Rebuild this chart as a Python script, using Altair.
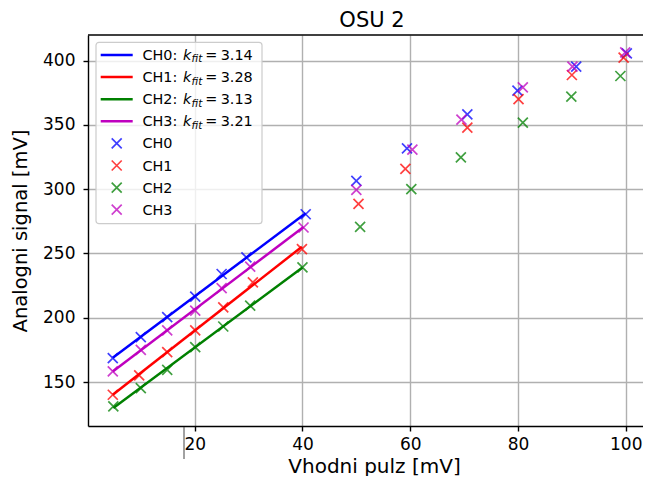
import altair as alt
import pandas as pd

channels = ["CH0", "CH1", "CH2", "CH3"]
colors = ["#0000ff", "#ff0000", "#008000", "#bf00bf"]
k_fit = ["3.14", "3.28", "3.13", "3.21"]

ch0_x = [4.8, 10.0, 14.9, 20.1, 25.0, 29.6, 40.6, 50.0, 59.4, 70.6, 79.9, 90.8, 100.2]
ch0_y = [168.6, 184.9, 200.4, 216.4, 234.0, 246.9, 280.5, 306.5, 331.8, 358.2, 376.6, 395.3, 405.6]
ch1_x = [4.8, 9.7, 14.9, 20.1, 25.3, 30.8, 39.9, 50.4, 59.1, 70.6, 80.1, 90.0, 99.6]
ch1_y = [140.1, 155.2, 173.2, 190.1, 208.1, 227.5, 253.4, 288.6, 315.8, 347.9, 370.1, 388.8, 402.3]
ch2_x = [4.9, 10.0, 14.9, 20.1, 25.3, 30.3, 40.0, 50.7, 60.2, 69.4, 80.9, 89.9, 99.0]
ch2_y = [131.1, 145.3, 159.5, 177.1, 193.2, 209.5, 239.2, 270.7, 300.0, 324.8, 351.8, 372.0, 388.0]
ch3_x = [4.8, 10.0, 14.9, 20.1, 25.0, 30.3, 40.2, 50.0, 60.4, 69.5, 80.9, 90.1, 99.9]
ch3_y = [158.3, 175.0, 190.1, 205.6, 223.1, 239.7, 270.2, 299.5, 330.8, 354.1, 379.2, 395.3, 406.4]
n_fit = 7  # first seven points of each channel are used for the linear fit

x_ticks = [20, 40, 60, 80, 100]
y_ticks = [150, 200, 250, 300, 350, 400]

rows = []
for ch, xs, ys in zip(channels, [ch0_x, ch1_x, ch2_x, ch3_x], [ch0_y, ch1_y, ch2_y, ch3_y]):
    for i, (xv, yv) in enumerate(zip(xs, ys)):
        rows.append({"ch": ch, "x": xv, "y": yv, "fit": i < n_fit})
df = pd.DataFrame(rows)
one = pd.DataFrame({"z": [0]})

FONT = "DejaVu Sans"
W, H = 555, 391
XPATH = "M-1,-1L1,1M-1,1L1,-1"

xenc = alt.X(
    "x:Q",
    scale=alt.Scale(domain=[0.2, 103.2], nice=False, zero=False),
    axis=alt.Axis(values=x_ticks, title="Vhodni pulz [mV]", titleX=286, titleY=46,
                  titleBaseline="alphabetic", titleAlign="center", labelPadding=5,
                  format="d"),
)
yenc = alt.Y(
    "y:Q",
    scale=alt.Scale(domain=[115.8, 419.9], nice=False, zero=False),
    axis=alt.Axis(values=y_ticks, title="Analogni signal [mV]", titleX=-62, titleY=H / 2,
                  titleBaseline="alphabetic", titleAlign="center", titleAngle=-90,
                  titleFontSize=19.5, labelPadding=8, format="d"),
)
cenc = alt.Color("ch:N", scale=alt.Scale(domain=channels, range=colors), legend=None)

fit_lines = alt.Chart(df).transform_filter("datum.fit").transform_regression(
    "x", "y", groupby=["ch"]
).mark_line(strokeWidth=2.5, clip=True).encode(x=xenc, y=yenc, color=cenc)

points = alt.Chart(df).mark_point(
    shape=XPATH, size=100, filled=False, strokeWidth=1.7, opacity=0.75, clip=True
).encode(x=xenc, y=yenc, color=cenc)

top_spine = alt.Chart(one).mark_rule(color="black", strokeWidth=1.4).encode(
    x=alt.value(0), x2=alt.value(W), y=alt.value(0)
)

title = alt.Chart(one).mark_text(
    align="center", baseline="alphabetic", font=FONT, fontSize=21, color="black"
).encode(x=alt.value(284), y=alt.value(-8), text=alt.value("OSU 2"))

stray = alt.Chart(one).mark_rule(color="#444444", strokeWidth=1).encode(
    x=alt.value(96), y=alt.value(H + 1), y2=alt.value(H + 33)
)

legend_layers = [
    alt.Chart(one).mark_rect(fill="white", fillOpacity=0.8, stroke="#cccccc",
                             strokeWidth=1.2, cornerRadius=3).encode(
        x=alt.value(8), x2=alt.value(174), y=alt.value(7.3), y2=alt.value(188.7)
    )
]
row0, step = 20.0, 22.1
txt = dict(align="left", baseline="alphabetic", font=FONT, fontSize=14.4, color="black")
for i, (ch, c, k) in enumerate(zip(channels, colors, k_fit)):
    r = row0 + step * i
    legend_layers.append(alt.Chart(one).mark_rule(color=c, strokeWidth=2.5).encode(
        x=alt.value(12.7), x2=alt.value(44.7), y=alt.value(r)))
    legend_layers.append(alt.Chart(one).mark_text(**txt).encode(
        x=alt.value(54.5), y=alt.value(r + 4.8), text=alt.value(ch + ":")))
    legend_layers.append(alt.Chart(one).mark_text(**{**txt, "fontStyle": "italic"}).encode(
        x=alt.value(95.0), y=alt.value(r + 4.8), text=alt.value("k")))
    legend_layers.append(alt.Chart(one).mark_text(**{**txt, "fontStyle": "italic", "fontSize": 10.3}).encode(
        x=alt.value(103.5), y=alt.value(r + 7.4), text=alt.value("fit")))
    legend_layers.append(alt.Chart(one).mark_text(**txt).encode(
        x=alt.value(117.3), y=alt.value(r + 4.8), text=alt.value("=")))
    legend_layers.append(alt.Chart(one).mark_text(**txt).encode(
        x=alt.value(132.7), y=alt.value(r + 4.8), text=alt.value(k)))
for i, (ch, c) in enumerate(zip(channels, colors)):
    r = row0 + step * (i + 4)
    legend_layers.append(alt.Chart(one).mark_point(
        shape=XPATH, size=100, filled=False, strokeWidth=1.7, opacity=0.75, color=c
    ).encode(x=alt.value(28.7), y=alt.value(r)))
    legend_layers.append(alt.Chart(one).mark_text(**txt).encode(
        x=alt.value(54.5), y=alt.value(r + 5.0), text=alt.value(ch)))

chart = alt.layer(fit_lines, points, top_spine, title, stray, *legend_layers).properties(
    width=W, height=H,
    padding={"left": 80, "top": 27, "right": 0, "bottom": 50},
    autosize=alt.AutoSizeParams(type="none"),
).configure_view(stroke=None).configure_axis(
    labelFont=FONT, labelFontSize=17, labelColor="black", labelFlush=False, labelOverlap=False,
    titleFont=FONT, titleFontSize=20, titleFontWeight="normal", titleColor="black",
    domainColor="black", domainWidth=1.4, tickColor="black", tickWidth=1.4, tickSize=5,
    gridColor="#b0b0b0", gridWidth=1.4, grid=True,
)

chart.save("out.html", embed_options={"renderer": "svg", "actions": False})
